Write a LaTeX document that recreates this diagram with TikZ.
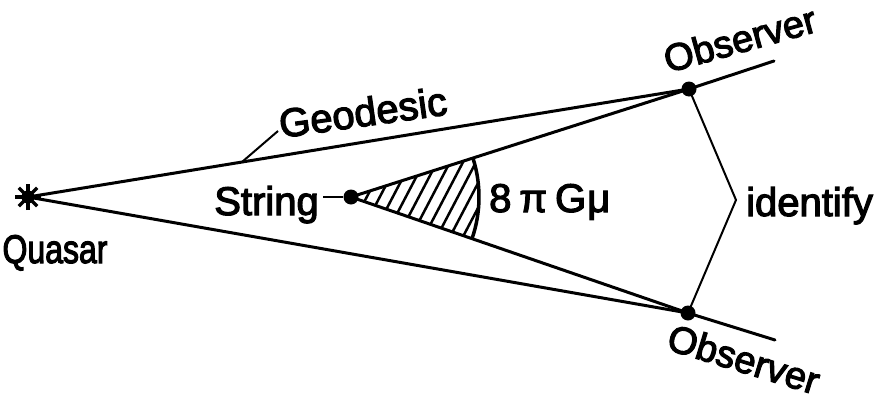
\documentclass[tikz,border=0pt]{standalone}
\usepackage{fontspec}
\setmainfont{Liberation Sans}
\newfontfamily\lblfont{Liberation Sans}[FakeBold=3]
\begin{document}
\begin{tikzpicture}[x=1pt,y=-1pt,
  lbl/.style={font=\lblfont\fontsize{40}{42}\selectfont, inner sep=0pt},
  obs/.style={font=\lblfont\fontsize{38}{40}\selectfont, inner sep=0pt},
  ray/.style={line width=3pt, line cap=round},
  thinline/.style={line width=2pt},
  hatch/.style={line width=2.5pt},
  dot/.style={circle, fill=black, inner sep=0pt, minimum size=15pt}]
\useasboundingbox (0,0) rectangle (881,399);
% points
\coordinate (Q) at (28,197);
\node[dot] (S) at (351,197) {};
\node[dot] (O1) at (689,89) {};
\node[dot] (O2) at (688,313) {};
\coordinate (E1) at (774,61);
\coordinate (E2) at (775,340);
\coordinate (V) at (736,200);
\coordinate (G1) at (242,162);
\coordinate (G2) at (278,131);
\coordinate (SL) at (323,197);
% hatched wedge
\begin{scope}
  \clip (S.center) -- ++(-17.7:128) arc[start angle=-17.7, end angle=19, radius=128] -- cycle;
  \foreach \k in {0,...,16}
    \draw[hatch] (300+\k*13,250) -- ++(55,-105);
\end{scope}
\draw[line width=3.5pt] (S.center) ++(-17.7:128) arc[start angle=-17.7, end angle=19, radius=128];
% geodesics
\draw[ray] (Q) -- (O1.center);
\draw[ray] (Q) -- (O2.center);
\draw[ray] (S.center) -- (O1.center) -- (E1);
\draw[ray] (S.center) -- (O2.center) -- (E2);
% quasar star
\foreach \a in {0,45,90,135}
  \draw[line width=3.5pt] (Q) ++(\a:13) -- ++(\a+180:26);
\fill (Q) circle (6.5);
% identify bracket
\draw[thinline] (O1.center) -- (V) -- (O2.center);
% leaders
\draw[thinline] (G1) -- (G2);
\draw[thinline] (SL) -- (S);
% labels
\node[lbl, anchor=base] (Qt) at (55,263) {\scalebox{0.8}[1]{Quasar}};
\node[lbl, anchor=base east] (St) at (319,215) {String};
\node[lbl, anchor=base west] (It) at (746,216) {identify};
\node[lbl, anchor=base west] (Mt) at (489,212) {8\hspace{8pt}π\hspace{8pt}G\hspace{1pt}μ};
\node[lbl, anchor=base west, rotate=8] (Gt) at (281,138) {Geodesic};
\node[obs, anchor=base west, rotate=15.5] (Ou) at (668,73) {Observer};
\node[obs, anchor=base west, rotate=-17] (Ol) at (665,349) {Observer};
\end{tikzpicture}
\end{document}
